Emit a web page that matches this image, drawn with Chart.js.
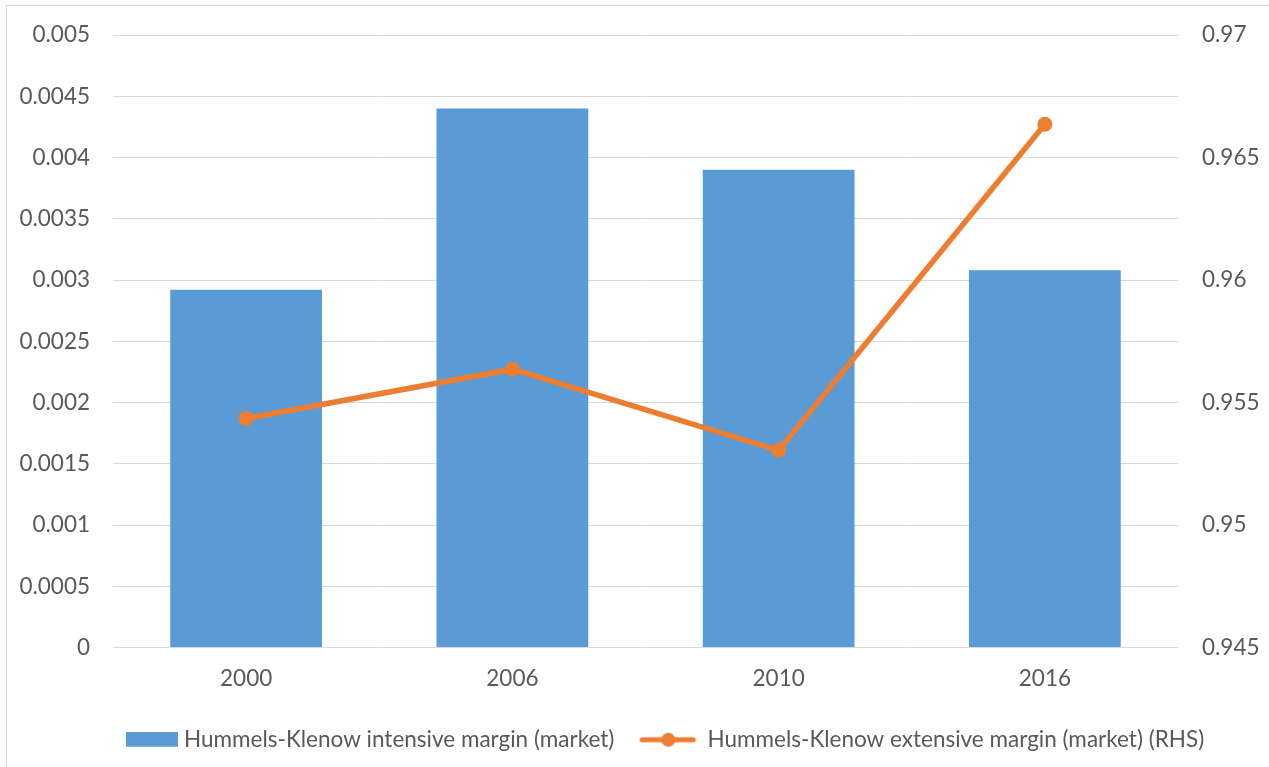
<!DOCTYPE html>
<html>
<head>
<meta charset="utf-8">
<title>Hummels-Klenow margins</title>
<script src="https://cdn.jsdelivr.net/npm/chart.js@4.4.1/dist/chart.umd.min.js"></script>
<style>
    html, body { margin: 0; padding: 0; background: #fff; overflow: hidden; }
    #wrap { position: relative; width: 1269px; height: 767px; }
    #frame {
        position: absolute; left: 6px; top: 5px; width: 1300px; height: 800px;
        border: 1px solid #d9d9d9; pointer-events: none;
    }
</style>
</head>
<body>
<div id="wrap">
    <canvas id="chart" width="1269" height="767"></canvas>
    <div id="frame"></div>
</div>
<script>
// ================= DATA =================
const years = ["2000", "2006", "2010", "2016"];
const intensiveMargin = [0.00292, 0.00440, 0.00390, 0.00308];
const extensiveMargin = [0.95435, 0.95636, 0.95305, 0.96636];
const leftTicks = [0, 0.0005, 0.001, 0.0015, 0.002, 0.0025, 0.003, 0.0035, 0.004, 0.0045, 0.005];
const rightTicks = [0.945, 0.95, 0.955, 0.96, 0.965, 0.97];

const BLUE = "#5B9BD5";
const ORANGE = "#ED7D31";
const GRID = "#d9d9d9";
const TEXT = "#595959";
const FONT = { family: "Lato, 'Liberation Sans', sans-serif", size: 22.5 };

// ================= LEGEND SYMBOLS =================
function legendBox() {
    const c = document.createElement("canvas");
    c.width = 62; c.height = 16;
    const g = c.getContext("2d");
    g.fillStyle = BLUE;
    g.fillRect(10, 0, 52, 15);
    return c;
}

function legendLine() {
    const c = document.createElement("canvas");
    c.width = 62; c.height = 16;
    const g = c.getContext("2d");
    g.strokeStyle = ORANGE;
    g.lineWidth = 5;
    g.lineCap = "round";
    g.beginPath();
    g.moveTo(3, 8); g.lineTo(54, 8);
    g.stroke();
    g.fillStyle = ORANGE;
    g.beginPath();
    g.arc(29, 8, 7, 0, Math.PI * 2);
    g.fill();
    return c;
}

const symbols = [legendBox(), legendLine()];

// the original legend sits a bit right of centre
const shiftLegend = {
    id: "shiftLegend",
    afterLayout(chart) {
        if (!chart.legend) return;
        chart.legend.left += 28;
        chart.legend.right += 28;
    }
};

// vertical axes: fixed width, no extra room asked for their end labels
const fixY = w => s => {
    s.width = w;
    s.paddingTop = 0;
    s.paddingBottom = 0;
};

// ================= CHART =================
new Chart(document.getElementById("chart").getContext("2d"), {
    data: {
        labels: years,
        datasets: [
            {
                type: "bar",
                label: "Hummels-Klenow intensive margin (market)",
                data: intensiveMargin,
                backgroundColor: BLUE,
                barPercentage: 0.57,
                categoryPercentage: 1,
                yAxisID: "y",
                order: 1
            },
            {
                type: "line",
                label: "Hummels-Klenow extensive margin (market) (RHS)",
                data: extensiveMargin,
                borderColor: ORANGE,
                backgroundColor: ORANGE,
                borderWidth: 5.5,
                pointRadius: 7.5,
                pointHoverRadius: 7.5,
                pointBorderWidth: 0,
                tension: 0,
                yAxisID: "y1",
                order: 0
            }
        ]
    },
    plugins: [shiftLegend],
    options: {
        responsive: false,
        animation: false,
        layout: { padding: { top: 35, left: 0, right: 0, bottom: 6 } },
        plugins: {
            tooltip: { enabled: false },
            legend: {
                position: "bottom",
                labels: {
                    color: TEXT,
                    font: FONT,
                    usePointStyle: true,
                    pointStyleWidth: 52,
                    padding: 30,
                    generateLabels: chart => chart.data.datasets.map((ds, i) => ({
                        text: ds.label,
                        pointStyle: symbols[i],
                        fontColor: TEXT,
                        lineWidth: 0,
                        strokeStyle: "transparent",
                        fillStyle: "transparent",
                        hidden: false,
                        datasetIndex: i
                    }))
                }
            }
        },
        scales: {
            x: {
                grid: { display: false, drawTicks: false },
                border: { display: false },
                ticks: { color: TEXT, font: FONT, padding: 18 },
                afterFit: s => { s.height = 51; }
            },
            y: {
                position: "left",
                min: 0,
                max: 0.005,
                grid: { color: GRID, lineWidth: 1, drawTicks: false },
                border: { display: false },
                ticks: { color: TEXT, font: FONT, padding: 23, callback: v => String(v) },
                afterBuildTicks: s => { s.ticks = leftTicks.map(v => ({ value: v })); },
                afterFit: fixY(113)
            },
            y1: {
                position: "right",
                min: 0.945,
                max: 0.97,
                grid: { display: false, drawTicks: false },
                border: { display: false },
                ticks: { color: TEXT, font: FONT, padding: 24, callback: v => String(v) },
                afterBuildTicks: s => { s.ticks = rightTicks.map(v => ({ value: v })); },
                afterFit: fixY(91)
            }
        }
    }
});
</script>
</body>
</html>
